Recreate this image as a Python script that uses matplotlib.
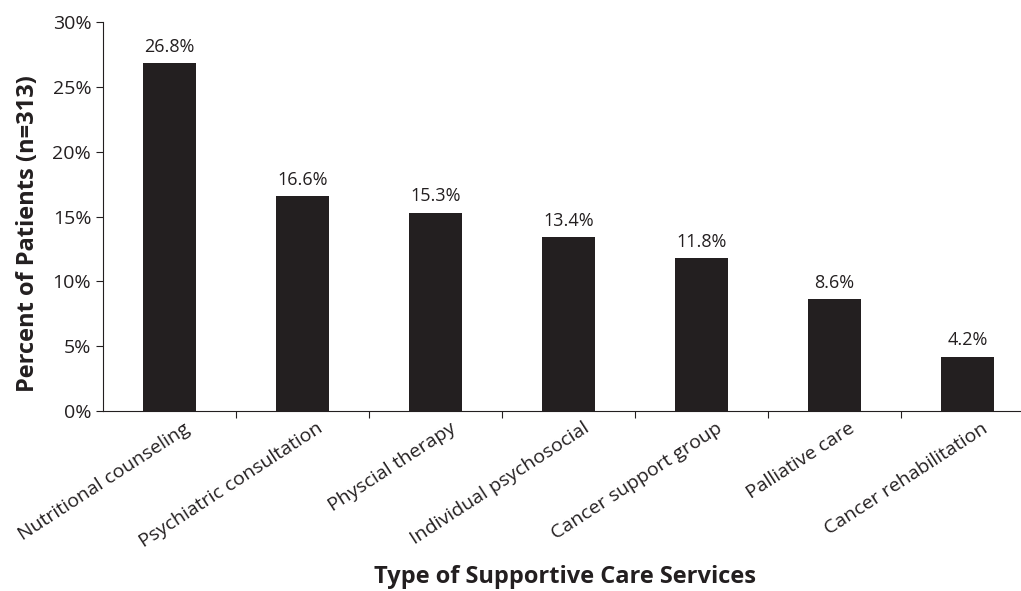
import matplotlib

matplotlib.use("Agg")
import matplotlib.pyplot as plt
from matplotlib.ticker import PercentFormatter
from matplotlib.transforms import ScaledTranslation

categories = [
    "Nutritional counseling",
    "Psychiatric consultation",
    "Physcial therapy",
    "Individual psychosocial",
    "Cancer support group",
    "Palliative care",
    "Cancer rehabilitation",
]
percents = [26.8, 16.6, 15.3, 13.4, 11.8, 8.6, 4.2]
y_ticks = [0, 5, 10, 15, 20, 25, 30]

plt.rcParams["font.family"] = ["Open Sans", "DejaVu Sans"]

W, H = 1021, 591
fig = plt.figure(figsize=(W / 100, H / 100), dpi=100)
left, right, top, bottom = 103, 103 + 931, 22, 411
ax = fig.add_axes([left / W, 1 - bottom / H, (right - left) / W, (bottom - top) / H])

ink = "#231f20"
x = range(len(categories))
ax.bar(x, percents, width=0.4, color=ink)
for xi, v in zip(x, percents):
    ax.text(xi, v + 0.55, f"{v:.1f}%", ha="center", va="bottom", fontsize=13, color=ink)

ax.set_xlim(-0.5, len(categories) - 0.5)
ax.set_ylim(0, 30)
ax.set_yticks(y_ticks)
ax.yaxis.set_major_formatter(PercentFormatter(decimals=0))
ax.tick_params(axis="y", labelsize=14, direction="out", length=5, colors=ink, labelcolor=ink)

ax.set_xticks([i + 0.5 for i in range(len(categories) - 1)])
ax.set_xticklabels([])
ax.tick_params(axis="x", direction="out", length=5, colors=ink)
ax.set_xticks(list(x), minor=True)
ax.set_xticklabels(categories, minor=True, rotation=33, ha="right", rotation_mode="anchor",
                   fontsize=14, color=ink)
ax.tick_params(axis="x", which="minor", length=0, pad=6)
shift = ScaledTranslation(14 / 100, 0, fig.dpi_scale_trans)
for lbl in ax.get_xticklabels(minor=True):
    lbl.set_transform(lbl.get_transform() + shift)

for side in ["top", "right"]:
    ax.spines[side].set_visible(False)
ax.spines["left"].set_color(ink)
ax.spines["bottom"].set_color(ink)

fig.text(28 / W, 1 - 234 / H, "Percent of Patients (n=313)", rotation=90, ha="center", va="center",
         fontsize=17, fontweight="bold", color=ink)
fig.text(565 / W, 1 - 577 / H, "Type of Supportive Care Services", ha="center", va="center",
         fontsize=17, fontweight="bold", color=ink)

fig.savefig("out.png", dpi=100)
